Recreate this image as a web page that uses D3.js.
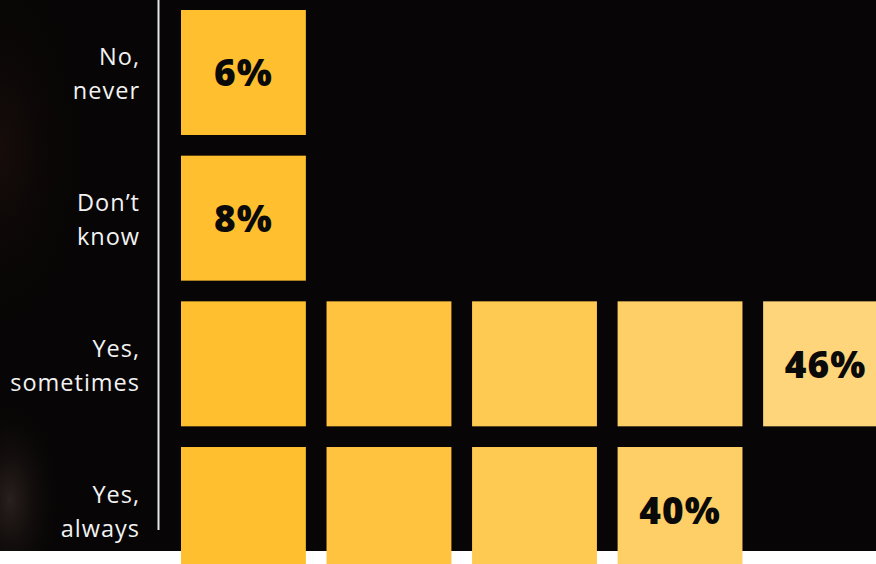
<!DOCTYPE html>
<html>
<head>
<meta charset="utf-8">
<script src="https://cdn.jsdelivr.net/npm/d3@7"></script>
<style>
  html, body { margin: 0; padding: 0; background: #ffffff; }
  svg { display: block; }
</style>
</head>
<body>
<svg id="chart" width="876" height="564"></svg>
<script>
// Data
const categories = ["No, never", "Don’t know", "Yes, sometimes", "Yes, always"];
const labelLines = [["No,", "never"], ["Don’t", "know"], ["Yes,", "sometimes"], ["Yes,", "always"]];
const values = [6, 8, 46, 40];
const unitPerSquare = 10;
const columnColors = ["#FFBF2F", "#FFC33F", "#FFCA52", "#FFCF67", "#FFD57B"];

const W = 876, H = 564;
const svg = d3.select("#chart");

// background
const defs = svg.append("defs");
const rg = defs.append("radialGradient").attr("id", "glow")
  .attr("gradientUnits", "userSpaceOnUse")
  .attr("cx", 10).attr("cy", 500).attr("r", 90)
  .attr("gradientTransform", "translate(10,500) scale(0.6,1.2) translate(-10,-500)");
rg.append("stop").attr("offset", "0").attr("stop-color", "#2a201d");
rg.append("stop").attr("offset", "1").attr("stop-color", "#070505").attr("stop-opacity", 0);
const rg2 = defs.append("radialGradient").attr("id", "glow2")
  .attr("gradientUnits", "userSpaceOnUse")
  .attr("cx", 0).attr("cy", 150).attr("r", 160)
  .attr("gradientTransform", "translate(0,150) scale(0.6,1.3) translate(0,-150)");
rg2.append("stop").attr("offset", "0").attr("stop-color", "#170d0b");
rg2.append("stop").attr("offset", "1").attr("stop-color", "#070505").attr("stop-opacity", 0);

svg.append("rect").attr("x", 0).attr("y", 0).attr("width", W).attr("height", 551).attr("fill", "#070505");
svg.append("rect").attr("x", 0).attr("y", 0).attr("width", W).attr("height", 551).attr("fill", "url(#glow2)");
svg.append("rect").attr("x", 0).attr("y", 0).attr("width", W).attr("height", 551).attr("fill", "url(#glow)");

// scales
const y = d3.scaleBand().domain(categories).range([10, 572]).paddingInner(0.142).paddingOuter(0);
const nCols = d3.max(values, v => Math.ceil(v / unitPerSquare));
const x = d3.scaleBand().domain(d3.range(nCols)).range([181, 888]).paddingInner(0.142).paddingOuter(0);
const color = d3.scaleOrdinal().domain(d3.range(nCols)).range(columnColors);

// axis line
svg.append("line").attr("x1", 158.5).attr("x2", 158.5).attr("y1", 0).attr("y2", 530)
  .attr("stroke", "#e6e6e6").attr("stroke-width", 2);

// labels
const labels = svg.append("g");
categories.forEach((c, i) => {
  const cy = y(c) + y.bandwidth() / 2;
  const t = labels.append("text")
    .attr("text-anchor", "end")
    .attr("fill", "#f2f2f2")
    .style("font-family", "'Open Sans', sans-serif")
    .style("font-size", "23.5px")
    .style("letter-spacing", "1px");
  t.append("tspan").attr("x", 140).attr("y", cy - 7).text(labelLines[i][0]);
  t.append("tspan").attr("x", 140).attr("y", cy + 27).text(labelLines[i][1]);
});

// squares
const rows = svg.append("g").selectAll("g").data(categories).join("g");
rows.each(function (c, i) {
  const n = Math.ceil(values[i] / unitPerSquare);
  const g = d3.select(this);
  g.selectAll("rect").data(d3.range(n)).join("rect")
    .attr("x", j => x(j))
    .attr("y", y(c))
    .attr("width", x.bandwidth())
    .attr("height", y.bandwidth())
    .attr("fill", j => color(j));
  g.append("text")
    .attr("x", x(n - 1) + x.bandwidth() / 2)
    .attr("y", y(c) + y.bandwidth() / 2 + 14)
    .attr("text-anchor", "middle")
    .attr("fill", "#0a0a0a")
    .style("font-family", "'Open Sans', sans-serif")
    .style("font-weight", "800")
    .style("font-size", "37px")
    .style("letter-spacing", "1px")
    .text(values[i] + "%");
});
</script>
</body>
</html>
